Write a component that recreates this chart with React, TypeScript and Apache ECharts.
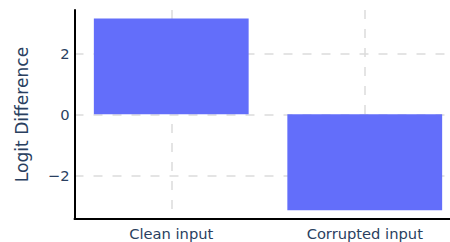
import React, { useEffect, useRef } from "react";
import * as echarts from "echarts";

const categories = ["Clean input", "Corrupted input"];
const logitDiff = [3.14, -3.14];
const yAxisTitle = "Logit Difference";

const TEXT = "#2a3f5f";
const FONT = "DejaVu Sans";

export default function App() {
  const ref = useRef<HTMLDivElement>(null);
  useEffect(() => {
    if (!ref.current) return;
    const chart = echarts.init(ref.current, undefined, { renderer: "svg" });
    chart.setOption({
      animation: false,
      backgroundColor: "#fff",
      grid: {
        left: 74.5,
        width: 387,
        top: 10,
        bottom: 23,
        containLabel: false,
        outerBoundsMode: "none",
      },
      xAxis: {
        type: "category",
        data: categories,
        boundaryGap: true,
        axisLine: { show: true, onZero: false, lineStyle: { color: "#000", width: 2 } },
        axisTick: { show: false },
        axisLabel: { color: TEXT, fontFamily: FONT, fontSize: 14.7, margin: 7 },
        splitLine: {
          show: true,
          alignWithLabel: true,
          lineStyle: { color: "#dcdcdc", type: [9, 10], width: 1.5 },
        },
      },
      yAxis: {
        type: "value",
        min: -3.43,
        max: 3.42,
        splitNumber: 3,
        name: yAxisTitle,
        nameLocation: "middle",
        nameRotate: 90,
        nameGap: 44,
        nameTextStyle: { color: TEXT, fontFamily: FONT, fontSize: 17.1 },
        axisLine: { show: true, onZero: false, lineStyle: { color: "#000", width: 2 } },
        axisTick: { show: false },
        axisLabel: {
          color: TEXT,
          fontFamily: FONT,
          fontSize: 14.7,
          margin: 5,
          showMinLabel: false,
          showMaxLabel: false,
          formatter: (v: number) => (v < 0 ? "\u2212" + Math.abs(v) : String(v)),
        },
        splitLine: {
          show: true,
          showMinLine: false,
          showMaxLine: false,
          lineStyle: { color: "#dcdcdc", type: [9, 10], width: 1.5 },
        },
      },
      series: [
        {
          type: "bar",
          data: logitDiff,
          barCategoryGap: "20%",
          itemStyle: { color: "#636efa" },
        },
      ],
    });
    return () => chart.dispose();
  }, []);
  return <div ref={ref} style={{ width: 450, height: 242, position: "absolute", left: 0, top: 0 }} />;
}
